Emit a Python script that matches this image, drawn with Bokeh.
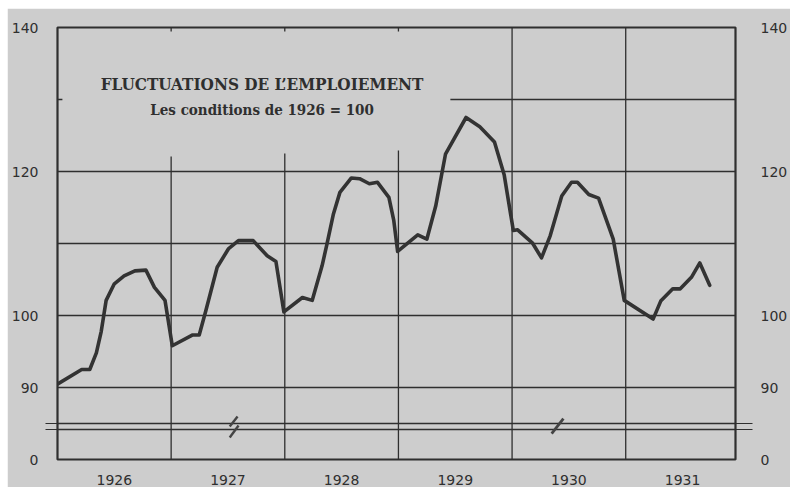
from bokeh.plotting import figure
from bokeh.models import Range1d, FixedTicker, LinearAxis, Label
from bokeh.embed import file_html
from bokeh.resources import INLINE

# ---- data ----
# time as offset in years from Jan 1926
time_offset = [0.003, 0.213, 0.284, 0.342, 0.385, 0.428, 0.500, 0.586, 0.681, 0.778,
               0.853, 0.946, 1.010, 1.190, 1.247, 1.304, 1.405, 1.506, 1.592, 1.722,
               1.845, 1.922, 1.992, 2.155, 2.241, 2.328, 2.371, 2.428, 2.485, 2.586,
               2.658, 2.744, 2.816, 2.916, 2.959, 2.993, 3.170, 3.250, 3.328, 3.414,
               3.595, 3.716, 3.845, 3.931, 4.011, 4.049, 4.178, 4.259, 4.336, 4.437,
               4.523, 4.575, 4.675, 4.761, 4.890, 4.987, 5.241, 5.308, 5.414, 5.480,
               5.578, 5.652, 5.739]
employment = [90.5, 92.5, 92.5, 94.8, 97.8, 102.1, 104.4, 105.5, 106.2, 106.3,
              103.9, 102.1, 95.8, 97.3, 97.3, 100.6, 106.7, 109.3, 110.4, 110.4,
              108.3, 107.5, 100.5, 102.5, 102.1, 106.9, 109.9, 114.1, 117.1, 119.1,
              119.0, 118.3, 118.5, 116.4, 113.2, 108.9, 111.2, 110.6, 115.2, 122.4,
              127.5, 126.2, 124.1, 119.5, 111.8, 111.9, 110.1, 108.0, 111.1, 116.6,
              118.5, 118.5, 116.8, 116.3, 110.6, 102.1, 99.5, 102.0, 103.7, 103.7,
              105.3, 107.3, 104.2]
years = [1926, 1927, 1928, 1929, 1930, 1931]
year_labels = ["1926", "1927", "1928", "1929", "1930", "1931"]
y_ticks = [80, 90, 100, 120, 140]
y_tick_labels = {80: "0"}
grid_levels = [90, 100, 110, 120]
break_levels = [84.17, 85.0]

title = "FLUCTUATIONS DE L\u2019EMPLOIEMENT"
subtitle = "Les conditions de 1926 = 100"

# ---- styling / layout ----
BG = "#cdcdcd"
INK = "#2f2f2f"
X_START, X_END = 1926.0, 1931.966
Y_MIN, Y_MAX = 80, 140
PX_X = 116.0   # px per year
PX_Y = 7.2     # px per index unit

t = [years[0] + o for o in time_offset]

p = figure(width=783, height=479, margin=(8, 0, 0, 7),
           output_backend="svg", toolbar_location=None,
           x_range=Range1d(X_START, X_END), y_range=Range1d(Y_MIN, Y_MAX),
           min_border_left=50, min_border_right=41, min_border_top=19, min_border_bottom=28,
           background_fill_color=BG, border_fill_color=BG,
           outline_line_color=INK, outline_line_width=2.2)

# bottom axis: year labels centred in each year
p.xaxis.ticker = FixedTicker(ticks=[y + 0.5 for y in years])
p.xaxis.major_label_overrides = {y + 0.5: lab for y, lab in zip(years, year_labels)}
p.yaxis.ticker = FixedTicker(ticks=y_ticks, minor_ticks=break_levels)
p.yaxis.major_label_overrides = y_tick_labels
right = LinearAxis(ticker=FixedTicker(ticks=y_ticks, minor_ticks=break_levels),
                   major_label_overrides=y_tick_labels)
p.add_layout(right, "right")

for ax in p.axis:
    ax.axis_line_color = None
    ax.major_tick_line_color = None
    ax.minor_tick_line_color = None
    ax.major_label_text_font = "DejaVu Sans"
    ax.major_label_text_font_size = "14px"
    ax.major_label_text_color = INK
p.xaxis.major_label_standoff = 9
p.yaxis.major_label_standoff = 7
right.major_label_standoff = 8
# break lines continue a little outside the frame
for ax, out in ((p.yaxis[0], 12), (right, 17)):
    ax.minor_tick_line_color = INK
    ax.minor_tick_line_width = 1.2
    ax.minor_tick_in = 0
    ax.minor_tick_out = out

p.xgrid.visible = False
p.ygrid.ticker = FixedTicker(ticks=grid_levels + break_levels)
p.ygrid.grid_line_color = INK
p.ygrid.grid_line_width = 1.3

# partial horizontal line at 130 (starts right of the title)
p.segment(x0=[1929.457], y0=[130], x1=[X_END], y1=[130], line_color=INK, line_width=1.3)
# small tick at 130 on the left frame
p.segment(x0=[X_START], y0=[130], x1=[X_START + 5 / PX_X], y1=[130], line_color=INK, line_width=1.3)

# vertical year-boundary lines (the first three stop under the title)
vx = years[1:]
vtop = [122.1, 122.5, 122.9, Y_MAX, Y_MAX]
p.segment(x0=vx, y0=[Y_MIN] * len(vx), x1=vx, y1=vtop, line_color=INK, line_width=1.3)
# small ticks under the top frame where the lines stop
p.segment(x0=vx[:3], y0=[Y_MAX] * 3, x1=vx[:3], y1=[Y_MAX - 4 / PX_Y] * 3, line_color=INK, line_width=1.3)

# zigzag break symbols
c1x, c2x, cy = 1927.55, 1930.40, 84.58
p.segment(x0=[c1x + 4 / PX_X, c1x + 5 / PX_X], y0=[cy + 10 / PX_Y, cy + 1 / PX_Y],
          x1=[c1x - 4 / PX_X, c1x - 4 / PX_X], y1=[cy, cy - 11 / PX_Y],
          line_color="#444444", line_width=2.4)
p.segment(x0=[c2x + 6 / PX_X], y0=[cy + 8 / PX_Y], x1=[c2x - 6 / PX_X], y1=[cy - 7 / PX_Y],
          line_color="#444444", line_width=2.8)

# the series
p.line(t, employment, line_color="#333333", line_width=3.6, line_join="round", line_cap="round")

# title
p.add_layout(Label(x=1927.80, y=132.1, text=title, text_align="center", text_baseline="middle",
                   text_font="DejaVu Serif Condensed", text_font_style="bold",
                   text_font_size="17px", text_color=INK))
p.add_layout(Label(x=1927.80, y=128.5, text=subtitle, text_align="center", text_baseline="middle",
                   text_font="DejaVu Serif Condensed", text_font_style="bold",
                   text_font_size="15px", text_color=INK))

open("out.html", "w").write(file_html(p, INLINE))
